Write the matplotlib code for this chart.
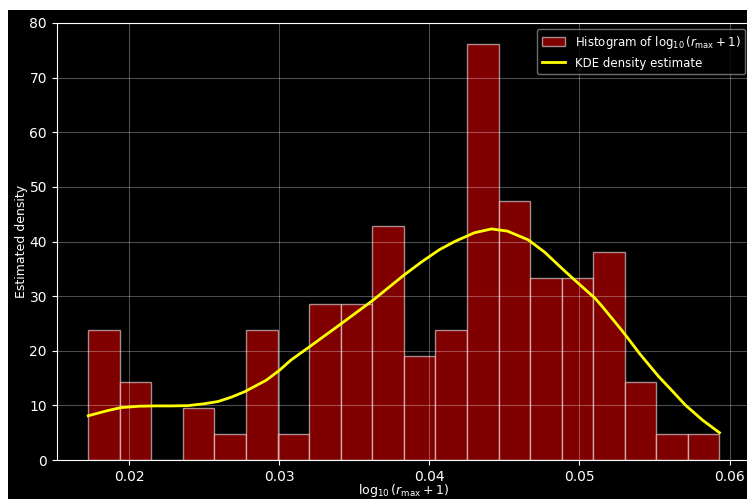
import numpy as np
import matplotlib.pyplot as plt
from matplotlib.patches import Rectangle

plt.style.use("dark_background")

# histogram of log10(r_max + 1): 20 equal bins, density-normalised
x_min, x_max = 0.01727, 0.05933
n_bins = 20
density = [23.8, 14.3, 0.0, 9.5, 4.8, 23.8, 4.8, 28.5, 28.5, 42.8,
           19.0, 23.8, 76.1, 47.5, 33.3, 33.3, 38.0, 14.3, 4.8, 4.8]

# KDE curve sampled over the data range
kde_x = [0.01727, 0.0185, 0.01946, 0.0207, 0.02169, 0.0228, 0.02391, 0.0250,
         0.02591, 0.0268, 0.02769, 0.02913, 0.0300, 0.03078, 0.0320, 0.0341,
         0.03622, 0.03833, 0.0395, 0.04067, 0.04169, 0.0430, 0.04414, 0.0452,
         0.04659, 0.0477, 0.04882, 0.0499, 0.05104, 0.05149, 0.0528, 0.0532,
         0.0540, 0.05527, 0.0562, 0.05704, 0.0582, 0.05933]
kde_y = [8.1, 9.0, 9.6, 9.85, 9.9, 9.9, 9.95, 10.3,
         10.7, 11.5, 12.5, 14.6, 16.4, 18.3, 20.7, 24.9,
         29.2, 33.9, 36.3, 38.5, 40.0, 41.6, 42.3, 41.9,
         40.3, 38.0, 35.1, 32.4, 29.6, 28.2, 23.8, 22.4,
         19.5, 15.3, 12.6, 10.1, 7.3, 5.0]

edges = np.linspace(x_min, x_max, n_bins + 1)

fig = plt.figure(figsize=(7.47, 4.99), dpi=100, facecolor="white")
fig.patches.append(Rectangle((8 / 747, 0), 1, 1 - 10 / 499, transform=fig.transFigure,
                             facecolor="black", edgecolor="none", zorder=-10))
ax = fig.add_axes([56.7 / 747, 39 / 499, (751 - 56.7) / 747, 437 / 499])
ax.set_zorder(1)
ax.set_facecolor("black")

bars = ax.bar(edges[:-1], density, width=np.diff(edges), align="edge",
              color="#800000", edgecolor=(1, 1, 1, 0.55), linewidth=1.0,
              label=r"Histogram of $\log_{10}(r_{\max}+1)$")
kde_line, = ax.plot(kde_x, kde_y, color="yellow", linewidth=2,
                    label="KDE density estimate")

ax.set_xlim(0.01517, 0.06143)
ax.set_ylim(0, 80)
ax.grid(True, color="white", alpha=0.3, linewidth=0.8)
ax.set_xlabel(r"$\log_{10}(r_{\max}+1)$", fontsize=9, labelpad=-1)
ax.set_ylabel("Estimated density", fontsize=9, labelpad=1)
ax.legend(handles=[bars, kde_line], loc="upper right", fontsize=8.5,
          facecolor="black", edgecolor="#888888")

fig.savefig("out.png", dpi=100, facecolor=fig.get_facecolor())
